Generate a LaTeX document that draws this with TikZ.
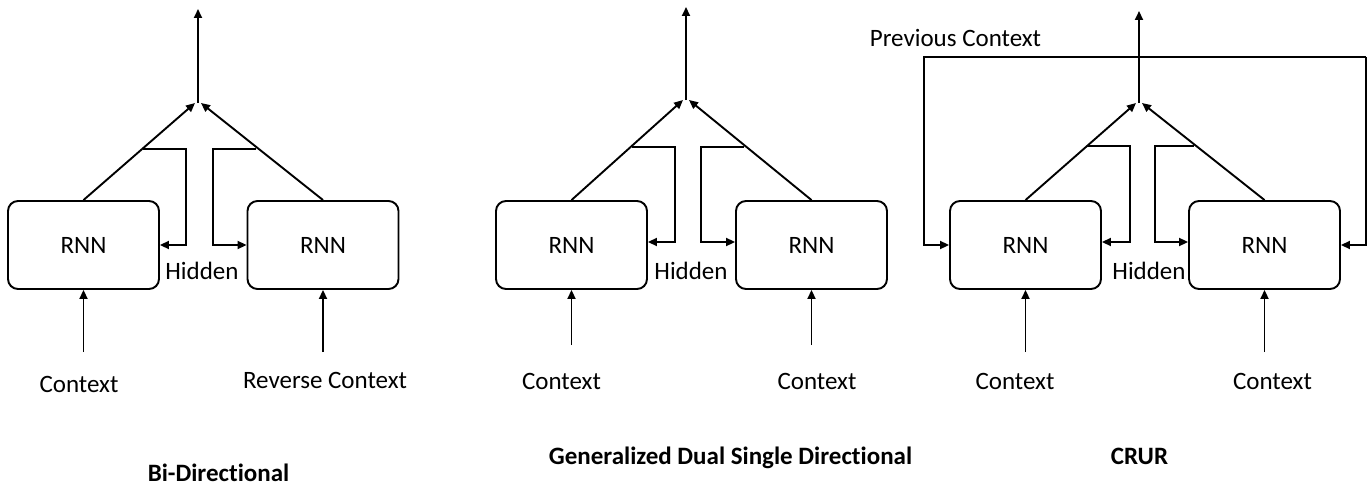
\documentclass[tikz,border=0pt]{standalone}
\usepackage{fontspec}
\setmainfont{Carlito}[Ligatures={NoCommon,NoDiscretionary,NoContextual}]
\usetikzlibrary{arrows.meta,calc}
\begin{document}
\begin{tikzpicture}[x=1pt,y=-1pt,line width=1.9pt,
  rnn/.style={draw, rounded corners=10pt, minimum width=151pt, minimum height=88pt, inner sep=0pt, font=\fontsize{25}{30}\selectfont},
  lbl/.style={inner sep=0pt, anchor=base, font=\fontsize{25}{30}\selectfont},
  ttl/.style={inner sep=0pt, anchor=base, font=\fontsize{25}{30}\selectfont\bfseries},
  arr/.style={-{Triangle[length=9pt,width=8pt]}}]
\useasboundingbox (0,0) rectangle (1372,487);

% ---------- Panel 1: Bi-Directional ----------
\node[rnn] (b1l) at (83.5,245) {RNN};
\node[rnn] (b1r) at (323,245) {RNN};
\coordinate (j1) at (198,103);
\coordinate (t1) at (198,9);
\draw[arr] (j1) -- (t1);
\draw[arr] (b1l.north) -- ([xshift=-3pt]j1);
\draw[arr] (b1r.north) -- ([xshift=3pt]j1);
\coordinate (h1l) at (143,149);
\coordinate (h1r) at (256,149);
\draw[arr] (h1l) -| ($(b1l.east)+(26,0)$) -- (b1l.east);
\draw[arr] (h1r) -| ($(b1r.west)+(-34,0)$) -- (b1r.west);
\node[lbl] (hid1) at (202,279) {Hidden};
\coordinate (i1l) at (83.5,352);
\coordinate (i1r) at (323,352);
\draw[arr] (i1l) -- (b1l.south);
\draw[arr] (i1r) -- (b1r.south);
\node[lbl] (c1l) at (79,392) {Context};
\node[lbl] (c1r) at (325,388) {Reverse Context};
\node[ttl] (tt1) at (218.5,481) {Bi-Directional};

% ---------- Panel 2: Generalized Dual Single Directional ----------
\node[rnn] (b2l) at (571.5,245) {RNN};
\node[rnn] (b2r) at (811.5,245) {RNN};
\coordinate (j2) at (686,100);
\coordinate (t2) at (686,7);
\draw[arr] (j2) -- (t2);
\draw[arr] (b2l.north) -- ([xshift=-3pt]j2);
\draw[arr] (b2r.north) -- ([xshift=3pt]j2);
\coordinate (h2l) at (632,147);
\coordinate (h2r) at (744,147);
\draw[arr] (h2l) -| ($(b2l.east)+(27,-3)$) -- ([yshift=3pt]b2l.east);
\draw[arr] (h2r) -| ($(b2r.west)+(-34,-3)$) -- ([yshift=3pt]b2r.west);
\node[lbl] (hid2) at (691,279) {Hidden};
\coordinate (i2l) at (571.5,345);
\coordinate (i2r) at (811.5,345);
\draw[arr] (i2l) -- (b2l.south);
\draw[arr] (i2r) -- (b2r.south);
\node[lbl] (c2l) at (561.5,389) {Context};
\node[lbl] (c2r) at (817,389) {Context};
\node[ttl] (tt2) at (730.5,464) {Generalized Dual Single Directional};

% ---------- Panel 3: CRUR ----------
\node[rnn] (b3l) at (1025.5,245) {RNN};
\node[rnn] (b3r) at (1264.5,245) {RNN};
\coordinate (j3) at (1139,103);
\coordinate (t3) at (1139,11);
\coordinate (pcL) at (924,57);
\coordinate (pcR) at (1366,57);
\draw[arr] (pcR) -- (pcL) |- (b3l.west);
\draw[arr] (pcR) |- (b3r.east);
\draw[arr] (j3) -- (t3);
\draw[arr] (b3l.north) -- ([xshift=-3pt]j3);
\draw[arr] (b3r.north) -- ([xshift=3pt]j3);
\coordinate (h3l) at (1087,146);
\coordinate (h3r) at (1194,146);
\draw[arr] (h3l) -| ($(b3l.east)+(28,-3)$) -- ([yshift=3pt]b3l.east);
\draw[arr] (h3r) -| ($(b3r.west)+(-33,-3)$) -- ([yshift=3pt]b3r.west);
\node[lbl] (hid3) at (1149,279) {Hidden};
\node[lbl] (prev) at (955.5,47) {Previous Context};
\coordinate (i3l) at (1025.5,352);
\coordinate (i3r) at (1264.5,352);
\draw[arr] (i3l) -- (b3l.south);
\draw[arr] (i3r) -- (b3r.south);
\node[lbl] (c3l) at (1015,389) {Context};
\node[lbl] (c3r) at (1272.5,389) {Context};
\node[ttl] (tt3) at (1139.5,464) {CRUR};
\end{tikzpicture}
\end{document}
